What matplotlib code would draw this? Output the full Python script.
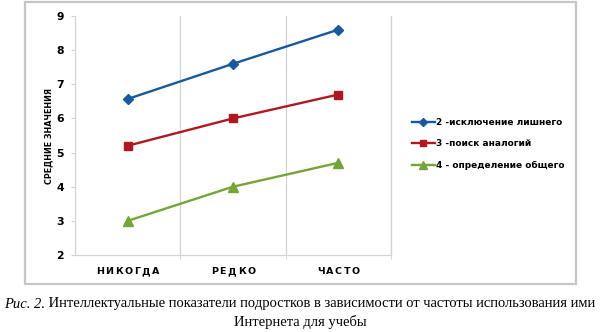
import matplotlib
matplotlib.use("Agg")
import matplotlib.pyplot as plt
from matplotlib.patches import Rectangle
from matplotlib.transforms import offset_copy

categories = ["НИКОГДА", "РЕДКО", "ЧАСТО"]
series_names = ["2 -исключение лишнего", "3 -поиск аналогий", "4 - определение общего"]
exclusion = [6.57, 7.6, 8.6]
analogies = [5.2, 6.0, 6.7]
generalization = [3.0, 4.0, 4.7]
y_ticks = [2, 3, 4, 5, 6, 7, 8, 9]
y_label = "СРЕДНИЕ ЗНАЧЕНИЯ"
caption_italic = "Рис. 2."
caption_rest = " Интеллектуальные показатели подростков в зависимости от частоты использования ими"
caption_line2 = "Интернета для учебы"

colors = ["#15599f", "#b0181f", "#74a637"]
markers = ["D", "s", "^"]
msizes = [5.5, 6.4, 7.5]
grid_c = "#d4d4d4"
sans = ["DejaVu Sans"]
serif = ["Liberation Serif", "DejaVu Serif"]

fig = plt.figure(figsize=(6.0, 3.32), dpi=100)
renderer = fig.canvas.get_renderer()

# chart frame
fig.patches.append(Rectangle((25 / 600, 1 - 284 / 332), 551 / 600, 282 / 332,
                             transform=fig.transFigure, fill=False,
                             edgecolor="#c6c6c6", linewidth=1.6))

ax = fig.add_axes([75 / 600, 1 - 255 / 332, 316 / 600, 239 / 332])
x = list(range(len(categories)))
for vals, c, m, ms, name in zip([exclusion, analogies, generalization], colors, markers, msizes, series_names):
    ax.plot(x, vals, color=c, marker=m, markersize=ms, linewidth=1.7, label=name,
            markeredgecolor=c)

ax.set_xlim(-0.5, 2.5)
ax.set_ylim(2, 9)
ax.set_yticks(y_ticks)
ax.set_yticklabels([str(v) for v in y_ticks], family=sans, fontweight="bold", fontsize=7.8)
ax.set_xticks(x)
ax.set_xticklabels([])
ax.set_xticks([0.5, 1.5, 2.5], minor=True)
ax.tick_params(axis="x", which="major", length=0)
ax.tick_params(axis="x", which="minor", length=3, color=grid_c, direction="out")
ax.tick_params(axis="y", length=3, color=grid_c, direction="out", pad=5)
ax.grid(True, axis="x", which="minor", color=grid_c, linewidth=0.9)
for s in ["left", "bottom", "right"]:
    ax.spines[s].set_color(grid_c)
    ax.spines[s].set_linewidth(0.9)
ax.spines["top"].set_visible(False)
ax.set_ylabel(y_label, family=sans, fontweight="bold", fontsize=5.8, labelpad=2)


def tracked_text(xc, label, spacing_px, y_offset_px, **kw):
    """Draw a letter-spaced label centred on data x = xc, below the axis."""
    widths = []
    for ch in label:
        t = ax.text(0, 0, ch, **kw)
        widths.append(t.get_window_extent(renderer).width)
        t.remove()
    total = sum(widths) + spacing_px * (len(label) - 1)
    pos = -total / 2
    base = ax.get_xaxis_transform()
    for ch, w in zip(label, widths):
        tr = offset_copy(base, fig=fig, x=pos, y=-y_offset_px, units="dots")
        ax.text(xc, 0, ch, transform=tr, ha="left", va="center", **kw)
        pos += w + spacing_px


for xi, cat in zip(x, categories):
    tracked_text(xi, cat, 1.6, 16.5, family=sans, fontweight="bold", fontsize=6.8)

fig.legend(loc="center left", bbox_to_anchor=(404 / 600, 1 - 144 / 332),
           frameon=False, prop={"family": sans, "weight": "bold", "size": 6.5},
           handlelength=2.5, handletextpad=0.2, labelspacing=1.4, markerscale=0.75)

# caption
t1 = fig.text(0, 1 - 304 / 332, caption_italic, family=serif, style="italic", fontsize=10.5,
              va="center", ha="left")
t2 = fig.text(0, 1 - 304 / 332, caption_rest, family=serif, fontsize=10.5, va="center", ha="left")
fig.text(0.5, 1 - 322 / 332, caption_line2, family=serif, fontsize=10.5, va="center", ha="center")
w1 = t1.get_window_extent(renderer).width / fig.bbox.width
w2 = t2.get_window_extent(renderer).width / fig.bbox.width
start = 0.5 - (w1 + w2) / 2
t1.set_x(start)
t2.set_x(start + w1)

fig.savefig("out.png", dpi=100)
